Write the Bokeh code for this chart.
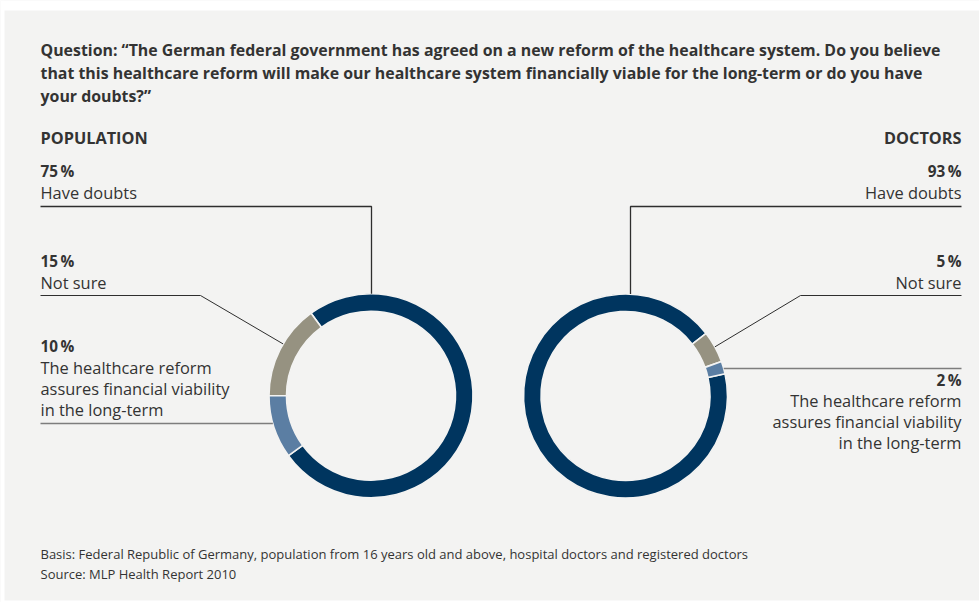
import math
from bokeh.plotting import figure
from bokeh.models import Range1d, ColumnDataSource
from bokeh.embed import file_html
from bokeh.resources import INLINE
from bokeh.core.properties import value

# ---------------- data ----------------
title_lines = [
    "Question: \u201cThe German federal government has agreed on a new reform of the healthcare system. Do you believe",
    "that this healthcare reform will make our healthcare system financially viable for the long-term or do you have",
    "your doubts?\u201d",
]
groups = ["POPULATION", "DOCTORS"]
answers = ["Have doubts", "Not sure",
           "The healthcare reform\nassures financial viability\nin the long-term"]
population_pct = [75, 15, 10]
doctors_pct = [93, 5, 2]
footer_lines = [
    "Basis: Federal Republic of Germany, population from 16 years old and above, hospital doctors and registered doctors",
    "Source: MLP Health Report 2010",
]

# ---------------- style ----------------
BG = "#f3f3f2"
TXT = "#333333"
NAVY = "#00355f"
GREY = "#969281"
BLUE = "#5b7ea3"
seg_colors = [NAVY, GREY, BLUE]
FONT = value("Open Sans")

W, H = 979, 602
p = figure(width=W, height=H, x_range=Range1d(0, W), y_range=Range1d(0, H),
           output_backend="svg", toolbar_location=None, min_border=0,
           x_axis_location=None, y_axis_location=None)
p.grid.visible = False
p.outline_line_color = None
p.background_fill_color = BG
p.border_fill_color = BG


def Y(sy):
    return H - sy


# white page edges as in the reference
p.quad(left=[0], right=[W], top=[Y(0)], bottom=[Y(10)], color="white", line_color=None)
p.quad(left=[0], right=[4], top=[Y(0)], bottom=[Y(H)], color="white", line_color=None)
p.quad(left=[0], right=[W], top=[Y(600)], bottom=[Y(H)], color="white", line_color=None)

R_OUT, R_IN = 102, 84.5
deg = math.pi / 180


def donut(cx, cy, pcts, anchor, mirror):
    """pcts = [doubts, not sure, assures]; anchor = angle between grey & blue."""
    d, n, a = [v * 3.6 for v in pcts]
    if not mirror:  # grey clockwise from anchor, blue anticlockwise
        grey = (anchor - n, anchor)
        blue = (anchor, anchor + a)
        navy = (anchor + a, anchor - n + 360)
    else:  # grey anticlockwise from anchor, blue clockwise
        grey = (anchor, anchor + n)
        blue = (anchor - a, anchor)
        navy = (anchor + n, anchor - a + 360)
    segs = [navy, grey, blue]
    src = ColumnDataSource(dict(
        x=[cx] * 3, y=[Y(cy)] * 3,
        start=[s[0] * deg for s in segs], end=[s[1] * deg for s in segs],
        color=seg_colors,
    ))
    p.annular_wedge(x="x", y="y", inner_radius=R_IN, outer_radius=R_OUT,
                    start_angle="start", end_angle="end", fill_color="color",
                    line_color=BG, line_width=1.6, source=src)
    return segs


pop_c = (370.5, 395.2)
doc_c = (625.0, 395.5)
pop_segs = donut(pop_c[0], pop_c[1], population_pct, 180.0, False)
doc_segs = donut(doc_c[0], doc_c[1], doctors_pct, 19.8, True)


def ring_pt(c, ang):
    return c[0] + R_OUT * math.cos(ang * deg), c[1] - R_OUT * math.sin(ang * deg)


def top_at(c, x):
    return c[1] - math.sqrt(R_OUT ** 2 - (x - c[0]) ** 2)


def side_at(c, y, sign):
    return c[0] + sign * math.sqrt(R_OUT ** 2 - (y - c[1]) ** 2)


def leader(xs, ys, color, width):
    p.line(xs, [Y(v) for v in ys], line_color=color, line_width=width)


DARK_LINE = "#2e2e2e"
GREY_LINE = "#7d7d7d"

# population leaders
leader([40, 371, 371], [206, 206, top_at(pop_c, 371)], DARK_LINE, 1.3)
gx, gy = ring_pt(pop_c, 149.5)
leader([40, 200, gx], [295, 295, gy], DARK_LINE, 1.0)
leader([40, side_at(pop_c, 423, -1)], [423, 423], GREY_LINE, 1.6)

# doctors leaders
leader([961, 630, 630], [206, 206, top_at(doc_c, 630)], DARK_LINE, 1.3)
gx, gy = ring_pt(doc_c, 28.8)
leader([961, 800, gx], [295, 295, gy], DARK_LINE, 1.0)
leader([961, side_at(doc_c, 368, 1)], [368, 368], GREY_LINE, 1.6)

TEXT_SHIFT = 7.3  # compensate renderer's baseline placement


def txt(x, y, s, size, bold=False, align="left"):
    p.text(x=[x], y=[Y(y - TEXT_SHIFT)], text=[s], text_font=FONT, text_font_size=size,
           text_font_style="bold" if bold else "normal", text_color=TXT,
           text_align=align, text_baseline="alphabetic")


# title
for i, line in enumerate(title_lines):
    txt(40, 57 + i * 22.7, line, "15.9px", bold=True)

# group headers
txt(40, 145, groups[0], "16.3px", bold=True)
txt(961, 145, groups[1], "16.3px", bold=True, align="right")

pop_pos = [(178, 199), (268, 289), (353, 374)]
doc_pos = [(178, 199), (268, 289), (387, 407)]
for k in range(3):
    lines = answers[k].split("\n")
    py, ly = pop_pos[k]
    txt(40, py, f"{population_pct[k]}\u2009%", "15.3px", bold=True)
    for j, l in enumerate(lines):
        txt(40, ly + j * 21.3, l, "16.4px")
    py, ly = doc_pos[k]
    txt(961, py, f"{doctors_pct[k]}\u2009%", "15.3px", bold=True, align="right")
    for j, l in enumerate(lines):
        txt(961, ly + j * 21.3, l, "16.4px", align="right")

# footer
txt(40, 561, footer_lines[0], "13px")
txt(40, 581, footer_lines[1], "13px")

open("out.html", "w").write(file_html(p, INLINE))
